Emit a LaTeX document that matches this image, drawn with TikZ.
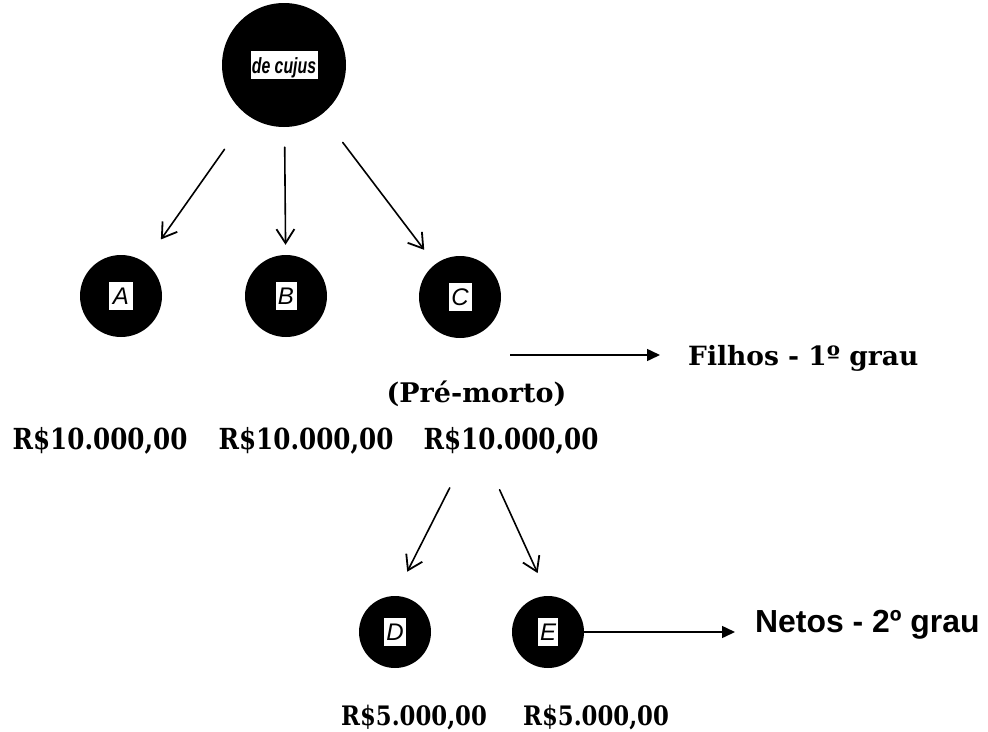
\documentclass[tikz,border=0pt]{standalone}
\usepackage{fontspec}
\setmainfont{DejaVu Serif}
\newfontfamily\moneyfont{DejaVu Serif}[FakeStretch=0.85]
\newfontfamily\arialfont{Liberation Sans}
\newfontfamily\cujusfont{Liberation Sans}[FakeStretch=0.72]
\usetikzlibrary{arrows.meta}

% white name tag inside the black circles
\newcommand{\nametag}[2]{{\setlength{\fboxsep}{0pt}\colorbox{white}{\makebox[#1]{\rule[-6pt]{0pt}{28pt}#2}}}}

\begin{document}
\begin{tikzpicture}[
						x=1pt, y=-1pt,
						person/.style={circle, fill=black, inner sep=0pt},
						deceased/.style={person, minimum size=124pt},
						heir/.style={person, minimum size=82pt},
						grandheir/.style={person, minimum size=72pt},
						letter/.style={font=\arialfont\itshape\fontsize{24}{28}\selectfont},
						hand/.style={line width=1.6pt, line cap=round, -{Straight Barb[length=14pt,width=18pt,line width=1.8pt]}},
						tri/.style={line width=1.5pt, -{Triangle[length=13pt,width=12pt]}},
						money/.style={anchor=base, inner sep=0pt, font=\moneyfont\bfseries\fontsize{29}{34}\selectfont},
						smallmoney/.style={money, font=\moneyfont\bfseries\fontsize{26.8}{32}\selectfont},
						degree/.style={anchor=base west, inner sep=0pt, font=\bfseries\fontsize{26.5}{31}\selectfont}
						]
						
						\useasboundingbox (0,0) rectangle (988,731);
						
						% de cujus
						\node[deceased] (cujus) at (284,65) {\nametag{67pt}{\cujusfont\bfseries\itshape\fontsize{22}{24}\selectfont de cujus}};
						
						% children
						\node[heir, letter] (A) at (121,296) {\nametag{24pt}{A}};
						\node[heir, letter] (B) at (286,296) {\nametag{21pt}{B}};
						\node[heir, letter] (C) at (460,297) {\nametag{23pt}{C}};
						
						\draw[hand, shorten <=41pt, shorten >=28pt] (cujus) -- (A);
						\draw[hand, shorten <=20pt, shorten >=10pt] (cujus) -- (B);
						\draw[hand, shorten <=35pt, shorten >=18pt] (cujus) -- (C);
						
						\coordinate (fstart) at (510,355);
						\node[degree] (filhos) at (688,365) {Filhos - 1º grau};
						\draw[tri, shorten >=28pt] (fstart) -- (fstart -| filhos.west);
						
						\node[anchor=base, inner sep=0pt, font=\bfseries\fontsize{27}{32}\selectfont] (premorto) at (476.5,402) {(Pré-morto)};
						
						\node[money] (mA) at (100,449) {R\$10.000,00};
						\node[money] (mB) at (306,449) {R\$10.000,00};
						\node[money] (mC) at (511,449) {R\$10.000,00};
						
						% grandchildren
						\node[grandheir, letter] (D) at (395,632) {\nametag{22pt}{D}};
						\node[grandheir, letter] (E) at (548,632) {\nametag{20pt}{E}};
						
						\coordinate (split) at (475.5,437);
						\draw[hand, shorten <=57pt, shorten >=27pt] (split) -- (D.north);
						\draw[hand, shorten <=58pt, shorten >=25pt] (split) -- (E.north);
						
						\node[anchor=base west, inner sep=0pt, font=\arialfont\bfseries\fontsize{31.9}{37}\selectfont] (netos) at (755,632) {Netos - 2º grau};
						\draw[tri, shorten >=20pt] (E) -- (E -| netos.west);
						
						\node[smallmoney] (mD) at (414,725) {R\$5.000,00};
						\node[smallmoney] (mE) at (596,725) {R\$5.000,00};
						
					\end{tikzpicture}
\end{document}
